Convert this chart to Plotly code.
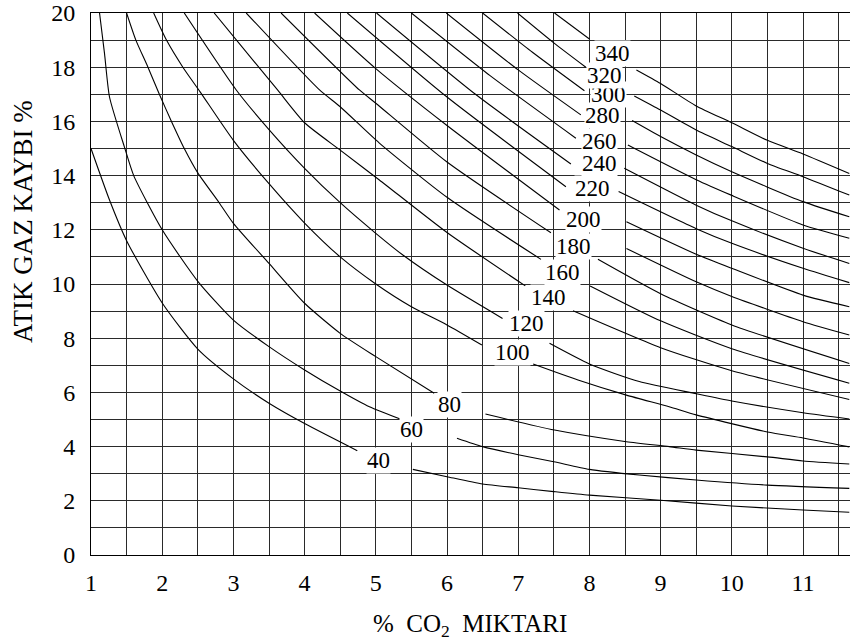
import plotly.graph_objects as go

# Curve labels (flue gas temperature difference)
temps = [40, 60, 80, 100, 120, 140, 160, 180, 200, 220, 240, 260, 280, 300, 320, 340]

# left segment of each curve (before its label)
left_x = [
    [1.0, 1.26, 1.5, 2.0, 2.5, 3.0, 3.5, 4.0, 4.74],
    [1.12, 1.19, 1.26, 1.47, 1.6, 2.0, 2.5, 3.0, 3.5, 4.0, 4.5, 4.91, 5.38],
    [1.5, 1.63, 1.8, 1.96, 2.13, 2.31, 2.5, 2.8, 3.0, 3.5, 4.0, 4.5, 5.0, 5.82],
    [1.88, 2.06, 2.29, 2.53, 3.0, 3.5, 4.0, 4.5, 5.0, 5.5, 6.0, 6.49],
    [2.31, 3.04, 3.5, 4.0, 4.5, 5.0, 5.38, 6.0, 6.78],
    [2.73, 3.62, 4.0, 4.5, 5.05, 6.0, 7.10],
    [3.18, 4.21, 4.5, 5.05, 6.0, 7.32],
    [3.67, 4.77, 5.0, 6.0, 7.46],
    [4.14, 5.0, 6.0, 7.58],
    [4.60, 6.0, 7.67],
    [5.01, 6.4, 7.74],
    [5.50, 6.6, 7.81],
    [5.99, 7.0, 7.88],
    [6.50, 7.2, 7.93],
    [6.99, 7.5, 7.95],
    [7.51, 8.0],
]
left_y = [
    [15.0, 13.1, 11.6, 9.3, 7.6, 6.5, 5.6, 4.85, 3.85],
    [20, 18.5, 16.9, 15.05, 14.0, 12.0, 10.1, 8.67, 7.69, 6.83, 6.05, 5.47, 4.98],
    [20, 19, 18, 17, 16, 15, 14.1, 13, 12.24, 10.76, 9.29, 8.18, 7.32, 5.97],
    [20, 19, 18, 17.1, 15.3, 13.7, 12.25, 11.0, 10.0, 9.16, 8.49, 7.75],
    [20, 17.16, 15.7, 14.27, 13.0, 11.87, 11.07, 9.96, 8.73],
    [20, 17.16, 15.95, 14.94, 13.84, 11.9, 9.93],
    [20, 17.16, 16.54, 15.2, 13.2, 10.91],
    [20, 17.16, 16.67, 14.5, 11.89],
    [20, 17.95, 15.85, 12.73],
    [20, 16.9, 13.59],
    [20, 17.0, 14.43],
    [20, 17.7, 15.38],
    [20, 17.9, 16.24],
    [20, 18.55, 17.13],
    [20, 18.9, 18.0],
    [20, 19.04],
]

# right segment of each curve (after its label)
right_x = [
    [5.52, 6.0, 6.5, 7.0, 7.5, 8.0, 9.0, 10.0, 11.0, 11.65],
    [6.14, 6.5, 7.0, 7.5, 8.0, 8.7, 9.5, 10.5, 11.65],
    [6.54, 7.51, 8.52, 9.12, 9.5, 10.5, 11.0, 11.65],
    [7.21, 7.84, 8.52, 9.12, 9.5, 10.5, 11.0, 11.65],
    [7.44, 8.0, 8.7, 9.5, 10.0, 11.0, 11.65],
    [7.77, 9.0, 10.0, 11.65],
    [8.01, 9.0, 10.0, 11.65],
    [8.12, 9.0, 10.0, 11.65],
    [8.52, 9.5, 10.0, 11.0, 11.65],
    [8.52, 9.5, 10.0, 11.0, 11.65],
    [8.41, 9.5, 10.0, 11.0, 11.65],
    [8.49, 9.5, 10.0, 11.0, 11.65],
    [8.54, 9.5, 10.0, 11.0, 11.65],
    [8.60, 9.0, 9.5, 10.0, 11.0, 11.65],
    [8.63, 9.0, 9.5, 10.0, 10.5, 11.0, 11.65],
    [8.66, 9.0, 9.5, 10.0, 10.5, 11.0, 11.65],
]
right_y = [
    [3.16, 2.89, 2.62, 2.48, 2.34, 2.21, 2.02, 1.81, 1.66, 1.58],
    [4.31, 4.0, 3.7, 3.44, 3.16, 2.95, 2.77, 2.58, 2.46],
    [5.20, 4.61, 4.18, 4.0, 3.87, 3.62, 3.47, 3.36],
    [7.05, 6.46, 5.90, 5.47, 5.17, 4.54, 4.32, 3.99],
    [7.81, 7.05, 6.4, 5.95, 5.68, 5.25, 5.02],
    [9.01, 7.65, 6.80, 5.74],
    [9.93, 8.64, 7.61, 6.34],
    [10.91, 9.64, 8.49, 7.07],
    [11.31, 10.08, 9.54, 8.61, 8.12],
    [12.30, 11.10, 10.58, 9.59, 9.16],
    [13.41, 12.04, 11.50, 10.58, 10.05],
    [14.27, 12.91, 12.33, 11.32, 10.76],
    [15.13, 13.85, 13.27, 12.18, 11.69],
    [16.03, 15.44, 14.76, 14.14, 13.04, 12.48],
    [16.94, 16.42, 15.68, 15.07, 14.45, 13.96, 13.28],
    [17.90, 17.4, 16.57, 15.95, 15.3, 14.8, 14.08],
]

# label anchor positions on each curve
label_x = [5.04, 5.50, 6.04, 6.92, 7.11, 7.42, 7.62, 7.78, 7.91, 8.04, 8.14, 8.14, 8.19, 8.27, 8.21, 8.33]
label_y = [3.5, 4.64, 5.54, 7.46, 8.55, 9.51, 10.42, 11.38, 12.39, 13.53, 14.45, 15.25, 16.2, 17.0, 17.71, 18.51]

x_ticks = [1, 2, 3, 4, 5, 6, 7, 8, 9, 10, 11]
y_ticks = [0, 2, 4, 6, 8, 10, 12, 14, 16, 18, 20]

FONT = "Liberation Serif"

# plot area target: x 91..850, y 13..555
L, T, PW, PH = 91, 13, 759, 542

fig = go.Figure()
for i, t in enumerate(temps):
    xs = left_x[i] + [None] + right_x[i]
    ys = left_y[i] + [None] + right_y[i]
    fig.add_trace(go.Scatter(
        x=xs, y=ys, mode="lines", name=str(t),
        line=dict(color="black", width=1.1, shape="spline", smoothing=0.6),
        connectgaps=False, hoverinfo="skip", showlegend=False,
    ))

for i, t in enumerate(temps):
    fig.add_annotation(
        x=label_x[i], y=label_y[i], xref="x", yref="y", text=str(t),
        showarrow=False, font=dict(family=FONT, size=23, color="black"),
        bgcolor="white", borderpad=0,
    )

grid_col = "#2a2a2a"
fig.update_xaxes(
    range=[1, 11.66], tickmode="array", tickvals=x_ticks,
    ticktext=[str(v) for v in x_ticks],
    showgrid=True, gridcolor=grid_col, gridwidth=1,
    minor=dict(dtick=0.5, tick0=1, showgrid=True, gridcolor=grid_col, gridwidth=1),
    showline=True, linecolor="black", linewidth=1, mirror=True,
    ticks="", zeroline=False, ticklabelstandoff=6, automargin=False,
    ticklabeloverflow="allow",
    tickfont=dict(family=FONT, size=24, color="black"),
)
fig.update_yaxes(
    range=[0, 20], tickmode="array", tickvals=y_ticks,
    ticktext=[str(v) for v in y_ticks],
    showgrid=True, gridcolor=grid_col, gridwidth=1,
    minor=dict(dtick=1, tick0=0, showgrid=True, gridcolor=grid_col, gridwidth=1),
    showline=True, linecolor="black", linewidth=1, mirror=False,
    ticks="", zeroline=False, ticklabelstandoff=10, automargin=False,
    ticklabeloverflow="allow",
    tickfont=dict(family=FONT, size=24, color="black"),
)

fig.add_annotation(
    x=(470 - L) / PW, y=-(625 - 555) / PH, xref="paper", yref="paper",
    xanchor="center", yanchor="middle",
    text="%\u00a0\u00a0CO<sub>2</sub>\u00a0\u00a0MIKTARI", showarrow=False,
    font=dict(family=FONT, size=25, color="black"),
)
fig.add_annotation(
    x=-(L - 23) / PW, y=(555 - 222) / PH, xref="paper", yref="paper",
    xanchor="center", yanchor="middle",
    text="ATIK GAZ KAYBI %", textangle=-90, showarrow=False,
    font=dict(family=FONT, size=27, color="black"),
)

fig.update_layout(
    width=L + PW, height=644,
    margin=dict(l=L, r=0, t=T, b=644 - T - PH, autoexpand=False),
    paper_bgcolor="white", plot_bgcolor="white",
    showlegend=False,
)

fig.write_html(
    "out.html",
    config={"displayModeBar": False, "staticPlot": True},
    post_script="document.body.style.margin='0px';",
)
